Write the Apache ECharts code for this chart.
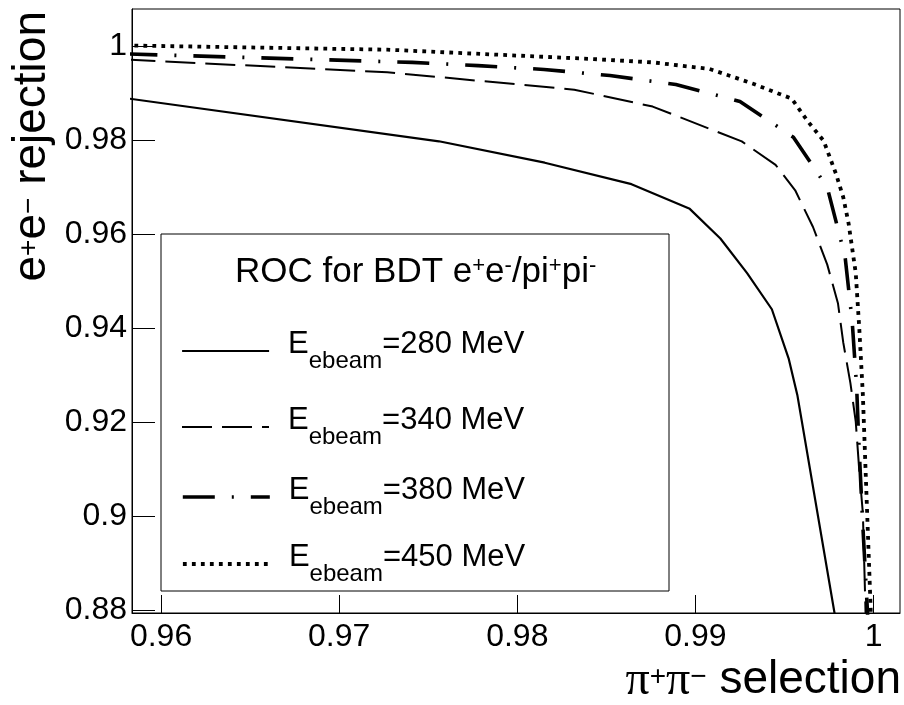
<!DOCTYPE html>
<html><head><meta charset="utf-8">
<script src="https://cdn.jsdelivr.net/npm/echarts@6/dist/echarts.min.js"></script>
<style>html,body{margin:0;padding:0;background:#fff}#c{width:904px;height:705px}</style>
</head><body><div id="c"></div>
<script>
// ---- tick labels ----
const xTicks = [0.96, 0.97, 0.98, 0.99, 1];
const yTicks = [0.88, 0.9, 0.92, 0.94, 0.96, 0.98, 1];

// ---- series (pi+pi- selection , e+e- rejection) ----
const energies = ['280', '340', '380', '450'];

const sel280 = [0.958, 0.9756, 0.98154, 0.98641, 0.98968, 0.9914, 0.9929, 0.99429, 0.99523, 0.99572, 0.99785];
const rej280 = [0.9889, 0.97972, 0.97517, 0.97061, 0.96536, 0.95906, 0.9517, 0.94401, 0.93357, 0.9258, 0.8785];

const sel340 = [0.958, 0.9727, 0.9832, 0.9876, 0.9926, 0.9945, 0.9956, 0.9966, 0.9974, 0.998, 0.9983, 0.9987, 0.999, 0.9992, 0.9994, 0.99955, 0.9996];
const rej340 = [0.9971, 0.9944, 0.9907, 0.9871, 0.9797, 0.9747, 0.9693, 0.9615, 0.9535, 0.9453, 0.9369, 0.9283, 0.9201, 0.9096, 0.9006, 0.8796, 0.875];

const sel380 = [0.958, 0.9741, 0.9778, 0.9815, 0.9852, 0.9889, 0.9925, 0.9955, 0.9974, 0.9984, 0.9988, 0.99905, 0.99916, 0.99939, 0.99966, 0.9997];
const rej380 = [0.9983, 0.9965, 0.9958, 0.995, 0.9937, 0.9918, 0.9882, 0.9806, 0.9699, 0.9552, 0.9414, 0.9275, 0.9168, 0.8985, 0.8796, 0.875];

const sel450 = [0.958, 0.9727, 0.9843, 0.9876, 0.9908, 0.9932, 0.9954, 0.9963, 0.9972, 0.9979, 0.9983, 0.9986, 0.999, 0.9992, 0.9994, 0.99955, 0.99985, 0.9999];
const rej450 = [1.0001, 0.9992, 0.9972, 0.9965, 0.9951, 0.992, 0.9888, 0.984, 0.9798, 0.9727, 0.9678, 0.9622, 0.9517, 0.9398, 0.9258, 0.91, 0.879, 0.875];

const legendHeader = 'ROC for BDT';

// ---- build ----
const zip = (a, b) => a.map((v, i) => [v, b[i]]);
const dataSets = [zip(sel280, rej280), zip(sel340, rej340), zip(sel380, rej380), zip(sel450, rej450)];
const styles = [
  {width: 2.2, type: 'solid'},
  {width: 2, type: [30, 10]},
  {width: 3.6, type: [32, 17, 2, 17]},
  {width: 3.8, type: [3.8, 5.2]}
];
const FONT = 'Liberation Sans';
const names = energies.map(e => 'E_ebeam=' + e + ' MeV');
const rowCenters = [345, 421, 491, 558];

const series = dataSets.map((d, i) => ({
  name: names[i], type: 'line', data: d, symbol: 'none', showSymbol: false,
  clip: true, animation: false, color: '#000',
  itemStyle: {color: '#000'},
  lineStyle: {color: '#000', width: styles[i].width, type: styles[i].type}
}));

const legendRich = {
  t: {fontFamily: FONT, fontSize: 31, color: '#000', lineHeight: 44, verticalAlign: 'top'},
  f: {fontFamily: FONT, fontSize: 31, color: '#000', lineHeight: 44, verticalAlign: 'top', padding: [0, 0, 0, 14]},
  s: {fontFamily: FONT, fontSize: 24, color: '#000', lineHeight: 24, verticalAlign: 'top', padding: [20, 0, 0, 0]}
};

const legends = names.map((n, i) => ({
  data: [n], orient: 'vertical', left: 181, top: rowCenters[i] - 16,
  padding: 0, itemWidth: 87, itemHeight: 44, selectedMode: false,
  itemStyle: {opacity: 0},
  lineStyle: {color: '#000', width: styles[i].width, type: styles[i].type},
  formatter: name => {
    const m = name.match(/^E_ebeam(=.*)$/);
    return '{f|E}{s|ebeam}{t|' + m[1] + '}';
  },
  textStyle: {rich: legendRich}
}));

const option = {
  backgroundColor: '#fff',
  animation: false,
  title: {
    text: '{t|' + legendHeader + ' e}{u|+}{t|e}{u|-}{t|/pi}{u|+}{t|pi}{u|-}',
    left: 235, top: 255, padding: 0,
    textStyle: {
      fontWeight: 'normal',
      rich: {
        t: {fontFamily: FONT, fontSize: 35, fontWeight: 'normal', color: '#000', lineHeight: 38, verticalAlign: 'top'},
        u: {fontFamily: FONT, fontSize: 22, fontWeight: 'normal', color: '#000', lineHeight: 22, verticalAlign: 'top', padding: [0, 0, 0, 0]}
      }
    }
  },
  legend: legends,
  graphic: [{
    type: 'rect', shape: {x: 161, y: 234, width: 508, height: 357},
    style: {fill: 'none', stroke: '#000', lineWidth: 1}, silent: true, z: 1
  }],
  grid: {left: 132, top: 9, width: 778, height: 612, show: true, borderColor: '#000', borderWidth: 1,
         containLabel: false, backgroundColor: 'transparent'},
  xAxis: {
    type: 'value', min: 0.95837, max: 1.001484,
    name: '{p|\u03c0}{u|+}{p|\u03c0}{u|\u2212}{t| selection}',
    nameLocation: 'end', nameGap: 1, nameMoveOverlap: false,
    nameTextStyle: {
      align: 'right', verticalAlign: 'top', padding: [44, 0, 0, 0],
      rich: {
        t: {fontFamily: FONT, fontSize: 46, color: '#000', lineHeight: 46, verticalAlign: 'top'},
        p: {fontFamily: 'Liberation Serif', fontSize: 48, color: '#000', lineHeight: 46, verticalAlign: 'top'},
        u: {fontFamily: FONT, fontSize: 28, color: '#000', lineHeight: 28, verticalAlign: 'top', padding: [6, 0, 0, 0]}
      }
    },
    axisLine: {show: true, onZero: false, lineStyle: {color: '#000', width: 1}},
    axisTick: {show: true, inside: true, length: 18, customValues: xTicks, lineStyle: {color: '#000', width: 1}},
    axisLabel: {show: true, customValues: xTicks, fontFamily: FONT, fontSize: 32, color: '#000', margin: 8,
                formatter: v => String(v)},
    splitLine: {show: false}
  },
  yAxis: {
    type: 'value', min: 0.87943, max: 1.007847,
    name: '{t|e}{u|+}{t|e}{u|\u2212}{t| rejection}',
    nameLocation: 'end', nameGap: -2, nameRotate: 90, nameMoveOverlap: false,
    nameTextStyle: {
      align: 'right', verticalAlign: 'bottom', padding: [0, 0, 77, 0],
      rich: {
        t: {fontFamily: FONT, fontSize: 46, color: '#000', lineHeight: 46, verticalAlign: 'top'},
        u: {fontFamily: FONT, fontSize: 28, color: '#000', lineHeight: 28, verticalAlign: 'top', padding: [6, 0, 0, 0]}
      }
    },
    axisLine: {show: true, onZero: false, lineStyle: {color: '#000', width: 1}},
    axisTick: {show: true, inside: true, length: 23, customValues: yTicks, lineStyle: {color: '#000', width: 1}},
    axisLabel: {show: true, customValues: yTicks, fontFamily: FONT, fontSize: 32, color: '#000', margin: 5,
                formatter: v => String(v)},
    splitLine: {show: false}
  },
  series: series
};

const chart = echarts.init(document.getElementById('c'), null, {renderer: 'canvas'});
chart.setOption(option);
</script>
</body></html>
